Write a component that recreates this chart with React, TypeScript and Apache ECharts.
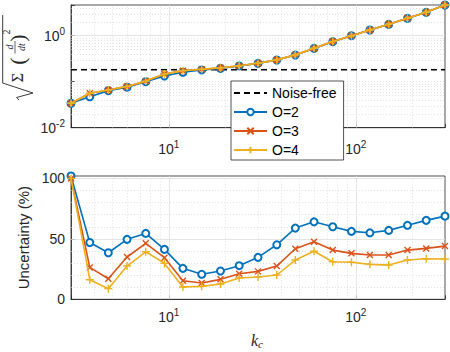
import React, { useEffect, useRef } from 'react';
import * as echarts from 'echarts';

// ---- data ----
const kc = [3, 3.78, 4.75, 5.98, 7.53, 9.48, 11.9, 15, 18.9, 23.8, 30, 37.8, 47.5, 59.8, 75.3, 94.8, 119, 150, 189, 238, 300];

const topO2 = [0.034, 0.047, 0.064, 0.076, 0.1, 0.133, 0.16, 0.18, 0.195, 0.22, 0.25, 0.296, 0.38, 0.53, 0.74, 1.0, 1.33, 1.77, 2.39, 3.23, 4.65];
const topO3 = [0.034, 0.056, 0.066, 0.079, 0.103, 0.147, 0.174, 0.186, 0.2, 0.222, 0.252, 0.298, 0.383, 0.535, 0.745, 1.0, 1.33, 1.77, 2.39, 3.23, 4.65];
const topO4 = [0.034, 0.056, 0.066, 0.079, 0.103, 0.147, 0.174, 0.186, 0.2, 0.222, 0.252, 0.298, 0.383, 0.535, 0.745, 1.0, 1.33, 1.77, 2.39, 3.23, 4.65];
const noiseFree = 0.182;

const botO2 = [102, 47, 38.5, 49.6, 54.5, 41.3, 25.6, 20.7, 23.4, 27.8, 34.7, 45.1, 58.9, 64.1, 60, 56.2, 55, 57, 61.2, 65.3, 68.8];
const botO3 = [100, 26.4, 17, 35, 46.3, 34.4, 15.4, 13.5, 16.5, 21.2, 23.1, 27.5, 41.8, 47.6, 40.7, 38, 36.6, 36.6, 40.7, 42.1, 44];
const botO4 = [100, 16.2, 8.8, 27.5, 39.3, 29.7, 10.2, 10.7, 12.6, 17.6, 18.4, 20.1, 32.5, 39.7, 31.1, 30.6, 28.9, 28.3, 32.5, 33.6, 33.3];

const seriesNames = ['O=2', 'O=3', 'O=4'];
const noiseName = 'Noise-free';

// tick labels
const xTickLabels = [10, 100];
const topYTickLabels = [0.01, 1];
const botYTickLabels = [0, 50, 100];

// grid lines
const xMajorGrid = [10, 100];
const xMinorGrid = [4, 5, 6, 7, 8, 9, 20, 30, 40, 50, 60, 70, 80, 90, 200];
const topYMajorGrid = [1];
const topYMinorGrid = [0.02, 0.03, 0.04, 0.05, 0.06, 0.07, 0.08, 0.09, 0.1, 0.2, 0.3, 0.4, 0.5, 0.6, 0.7, 0.8, 0.9, 2, 3, 4];
const botYMajorGrid = [50, 100];
const botYMinorGrid = [10, 20, 30, 40, 60, 70, 80, 90];

// ---- styles ----
const FONT = '"Liberation Sans", Arial, Helvetica, sans-serif';
const SERIF = '"Liberation Serif", "DejaVu Serif", serif';
const AX = '#262626';
const COLORS = ['#0072BD', '#D95319', '#EDB120'];
const SYMBOLS = ['emptyCircle', 'path://M0,0L10,10M10,0L0,10', 'path://M5,0L5,10M0,5L10,5'];
const SYMSIZE = [7, 6, 8];

const near = (a: number, b: number) => Math.abs(a - b) <= 1e-6 * Math.max(1, Math.abs(b));
const supRich = {
  b: { fontFamily: FONT, fontSize: 14, color: AX },
  s: { fontFamily: FONT, fontSize: 10, color: AX, padding: [0, 0, 9, 0] },
};
const supFmt = (v: number) => `{b|10}{s|${Math.round(Math.log10(v))}}`;

const pair = (ys: number[]) => kc.map((x, i) => [x, ys[i]]);

function gridMarkLine(xMaj: number[], xMin: number[], yMaj: number[], yMin: number[]) {
  const major = { color: '#dedede', width: 0.8, type: 'solid' };
  const minor = { color: '#cfcfcf', width: 0.6, type: [1, 2] };
  return {
    silent: true,
    symbol: 'none',
    z: 1,
    animation: false,
    label: { show: false },
    emphasis: { disabled: true },
    data: [
      ...xMin.map((v) => ({ xAxis: v, lineStyle: minor })),
      ...yMin.map((v) => ({ yAxis: v, lineStyle: minor })),
      ...xMaj.map((v) => ({ xAxis: v, lineStyle: major })),
      ...yMaj.map((v) => ({ yAxis: v, lineStyle: major })),
    ],
  };
}

function xAxisCfg(gridIndex: number, margin: number) {
  return {
    type: 'log',
    logBase: 10,
    gridIndex,
    min: kc[0],
    max: kc[kc.length - 1],
    axisLine: { show: true, lineStyle: { color: AX, width: 0.8 } },
    axisTick: { show: true, inside: true, length: 4, lineStyle: { color: AX, width: 0.8 } },
    splitLine: { show: false },
    axisLabel: {
      margin,
      formatter: (v: number) => (xTickLabels.some((t) => near(v, t)) ? supFmt(v) : ''),
      rich: supRich,
    },
  };
}

export default function App() {
  const ref = useRef<HTMLDivElement>(null);
  useEffect(() => {
    if (!ref.current) return;
    const chart = echarts.init(ref.current, null, { renderer: 'svg' });
    const topMax = Math.max(...topO2, ...topO3, ...topO4);
    const botMax = Math.max(...botO2, ...botO3, ...botO4);
    const topData = [topO2, topO3, topO4];
    const botData = [botO2, botO3, botO4];

    const mkSeries = (i: number, data: number[], axisIdx: number, extra: any = {}) => ({
      name: seriesNames[i],
      type: 'line',
      xAxisIndex: axisIdx,
      yAxisIndex: axisIdx,
      data: pair(data),
      symbol: SYMBOLS[i],
      symbolSize: SYMSIZE[i],
      showAllSymbol: true,
      lineStyle: { color: COLORS[i], width: 1.6 },
      itemStyle: { color: COLORS[i], borderColor: COLORS[i], borderWidth: 1.4 },
      emphasis: { disabled: true },
      z: 3 + i,
      ...extra,
    });

    const option: any = {
      animation: false,
      backgroundColor: '#fff',
      textStyle: { fontFamily: FONT },
      grid: [
        { left: 71, top: 5, width: 374, height: 122.7, show: true, borderColor: AX, borderWidth: 0.8, backgroundColor: '#fff' },
        { left: 71, top: 176, width: 374, height: 123.3, show: true, borderColor: AX, borderWidth: 0.8, backgroundColor: '#fff' },
      ],
      xAxis: [xAxisCfg(0, 12), xAxisCfg(1, 8)],
      yAxis: [
        {
          type: 'log',
          logBase: 10,
          gridIndex: 0,
          min: 0.01,
          max: topMax,
          axisLine: { show: true, lineStyle: { color: AX, width: 0.8 } },
          axisTick: { show: true, inside: true, length: 4, lineStyle: { color: AX, width: 0.8 } },
          splitLine: { show: false },
          axisLabel: {
            margin: 6,
            formatter: (v: number) => (topYTickLabels.some((t) => near(v, t)) ? supFmt(v) : ''),
            rich: supRich,
          },
        },
        {
          type: 'value',
          gridIndex: 1,
          min: 0,
          max: botMax,
          interval: 50,
          axisLine: { show: true, lineStyle: { color: AX, width: 0.8 } },
          axisTick: { show: true, inside: true, length: 4, lineStyle: { color: AX, width: 0.8 } },
          splitLine: { show: false },
          axisLabel: {
            margin: 6,
            fontFamily: FONT,
            fontSize: 14,
            color: AX,
            formatter: (v: number) => (botYTickLabels.some((t) => near(v, t)) ? String(v) : ''),
          },
          name: 'Uncertainty (%)',
          nameLocation: 'middle',
          nameRotate: 90,
          nameGap: 38,
          nameTextStyle: { fontFamily: FONT, fontSize: 15, color: AX },
        },
      ],
      legend: {
        orient: 'vertical',
        left: 231,
        top: 81,
        itemWidth: 33,
        itemHeight: 8,
        itemGap: 5,
        padding: [5, 7, 3, 2],
        backgroundColor: '#fff',
        borderColor: AX,
        borderWidth: 0.8,
        borderRadius: 0,
        selectedMode: false,
        textStyle: { fontFamily: FONT, fontSize: 14, color: '#000', lineHeight: 14 },
        data: [noiseName, ...seriesNames],
        z: 20,
      },
      series: [
        {
          name: noiseName,
          type: 'line',
          xAxisIndex: 0,
          yAxisIndex: 0,
          data: [[kc[0], noiseFree], [kc[kc.length - 1], noiseFree]],
          symbol: 'none',
          lineStyle: { color: '#000', width: 1.6, type: [6, 4] },
          itemStyle: { color: 'rgba(0,0,0,0)', borderColor: 'rgba(0,0,0,0)', opacity: 0 },
          emphasis: { disabled: true },
          z: 2,
          markLine: gridMarkLine(xMajorGrid, xMinorGrid, topYMajorGrid, topYMinorGrid),
        },
        ...topData.map((d, i) => mkSeries(i, d, 0)),
        ...botData.map((d, i) =>
          mkSeries(i, d, 1, i === 0 ? { markLine: gridMarkLine(xMajorGrid, xMinorGrid, botYMajorGrid, botYMinorGrid) } : {})
        ),
      ],
      graphic: [
        // sqrt( sum (d/dt)^2 ) rotated y-label of the top axes
        {
          type: 'polyline',
          shape: { points: [[19, 100], [16.5, 97.5], [33, 93], [2.7, 83], [2.7, 15]] },
          style: { stroke: AX, fill: null, lineWidth: 0.9 },
          silent: true,
        },
        { type: 'text', x: 17, y: 77.5, rotation: Math.PI / 2, silent: true,
          style: { text: 'Σ', font: `16px ${SERIF}`, fill: AX, align: 'center', verticalAlign: 'middle' } },
        { type: 'text', x: 17, y: 61, rotation: Math.PI / 2, silent: true,
          style: { text: '(', font: `22px ${SERIF}`, fill: AX, align: 'center', verticalAlign: 'middle' } },
        { type: 'text', x: 9.5, y: 47, rotation: Math.PI / 2, silent: true,
          style: { text: 'd', font: `italic 10px ${SERIF}`, fill: AX, align: 'center', verticalAlign: 'middle' } },
        { type: 'line', shape: { x1: 15, y1: 41, x2: 15, y2: 53.5 }, style: { stroke: AX, lineWidth: 0.7 }, silent: true },
        { type: 'text', x: 21.5, y: 47, rotation: Math.PI / 2, silent: true,
          style: { text: 'dt', font: `italic 10px ${SERIF}`, fill: AX, align: 'center', verticalAlign: 'middle' } },
        { type: 'text', x: 17, y: 38, rotation: Math.PI / 2, silent: true,
          style: { text: ')', font: `22px ${SERIF}`, fill: AX, align: 'center', verticalAlign: 'middle' } },
        { type: 'text', x: 6, y: 32, rotation: Math.PI / 2, silent: true,
          style: { text: '2', font: `10px ${SERIF}`, fill: AX, align: 'center', verticalAlign: 'middle' } },
        // k_c x-label
        {
          type: 'text', x: 257, y: 340, silent: true,
          style: {
            text: '{k|k}{c|c}',
            align: 'center',
            verticalAlign: 'middle',
            rich: {
              k: { fontFamily: SERIF, fontStyle: 'italic', fontSize: 16, fill: AX, color: AX },
              c: { fontFamily: SERIF, fontStyle: 'italic', fontSize: 11, fill: AX, color: AX, padding: [7, 0, 0, 0] },
            },
          },
        },
      ],
    };
    chart.setOption(option);
    return () => chart.dispose();
  }, []);
  return <div ref={ref} style={{ width: 450, height: 352, position: 'absolute', left: 0, top: 0 }} />;
}
